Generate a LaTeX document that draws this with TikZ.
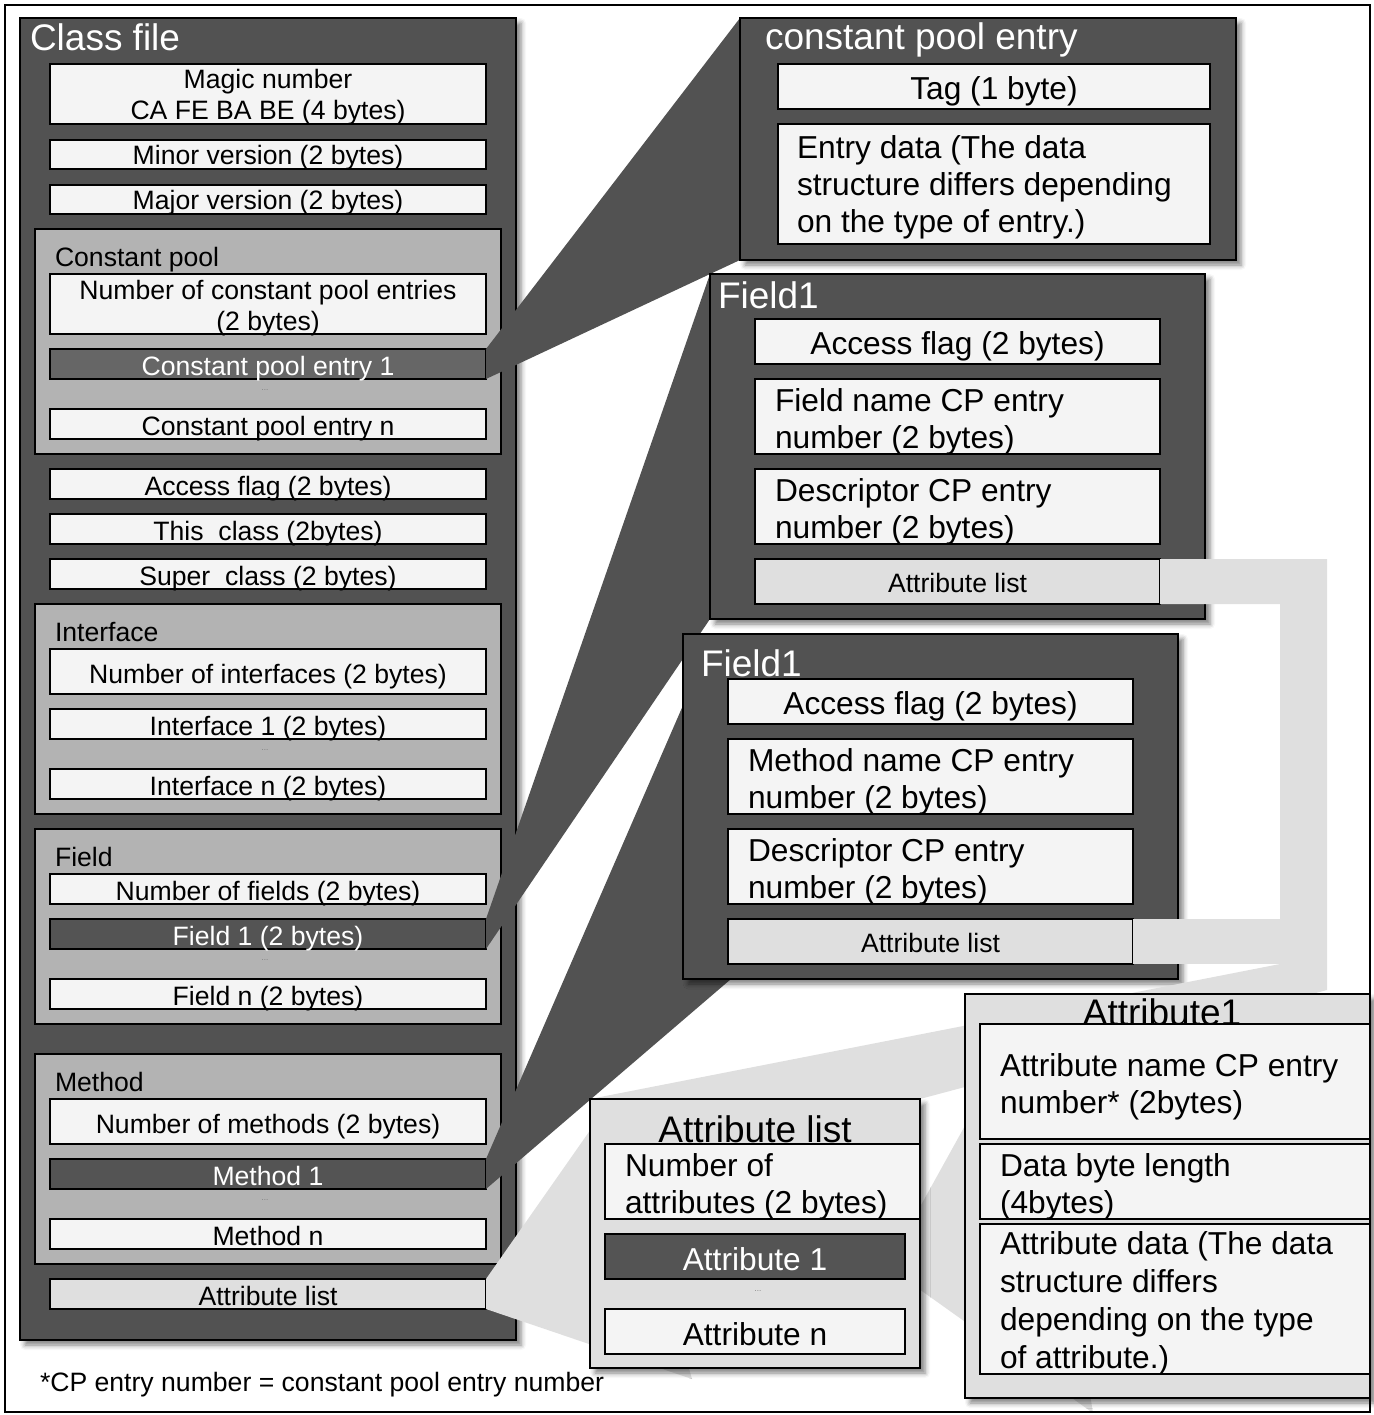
\documentclass[tikz,border=0pt]{standalone}
\usepackage{fontspec}
\setmainfont{Liberation Sans}
\usetikzlibrary{calc,shadows.blur}

\definecolor{panel}{HTML}{525252}
\definecolor{grouping}{HTML}{B3B3B3}
\definecolor{cell}{HTML}{F4F4F4}
\definecolor{cellhi}{HTML}{666666}
\definecolor{celldark}{HTML}{545454}
\definecolor{pale}{HTML}{DFDFDF}
\definecolor{dotgray}{HTML}{7A7A7A}

% stacked lines with a fixed baseline distance; the node base is the last line
\newcommand\cjlines[2]{\vbox{\baselineskip=#1pt\relax\lineskiplimit=-1000pt\relax\halign{\hfil##\hfil\cr#2\crcr}}}
\newcommand\lflines[2]{\vbox{\baselineskip=#1pt\relax\lineskiplimit=-1000pt\relax\halign{##\hfil\cr#2\crcr}}}
% rectangle node: style, name, top-left corner, width, height
\newcommand\rbox[5]{\node[#1,anchor=north west,minimum width=#4pt,minimum height=#5pt] (#2) at (#3) {};}

\tikzset{
  every node/.style={inner sep=0pt, outer sep=0pt},
  fsm/.style={font=\fontsize{26.6pt}{31pt}\selectfont},
  fmd/.style={font=\fontsize{31.7pt}{37pt}\selectfont},
  fbg/.style={font=\fontsize{37pt}{44pt}\selectfont},
  shade/.style={blur shadow={shadow xshift=5pt, shadow yshift=-5pt, shadow blur radius=5pt, shadow opacity=50}},
  panelbox/.style={draw=black, line width=2.5pt, fill=panel, shade},
  palebox/.style={draw=black, line width=2.5pt, fill=pale, shade},
  groupbox/.style={draw=black, line width=2.5pt, fill=grouping},
  cellbox/.style={draw=black, line width=2.4pt, fill=cell},
  hibox/.style={draw=black, line width=2.4pt, fill=cellhi},
  darkbox/.style={draw=black, line width=2.4pt, fill=celldark},
  palecell/.style={draw=black, line width=2.4pt, fill=pale},
  wedge/.style={fill=panel},
  paleband/.style={fill=pale},
  ell/.style={font=\fontsize{8pt}{9pt}\selectfont, text=dotgray},
}

\begin{document}
\begin{tikzpicture}[x=1pt,y=-1pt]
\useasboundingbox (0,0) rectangle (1373,1415);

% ---------------- class file ----------------
\rbox{panelbox}{cls}{20,18}{496}{1322}
\node[fbg, text=white, anchor=base west] (cls-t) at (30,51) {Class file};

\rbox{cellbox}{magic}{50,64}{436}{60}
\rbox{cellbox}{minor}{50,140}{436}{29}
\rbox{cellbox}{major}{50,185}{436}{29}

\rbox{groupbox}{gcp}{35,229}{466}{225}
\node[fsm, anchor=base west] (gcp-t) at (55,266) {Constant pool};
\rbox{cellbox}{cpn}{50,274}{436}{60}
\rbox{hibox}{cpe1}{50,349}{436}{30}
\rbox{cellbox}{cpen}{50,409}{436}{30}

\rbox{cellbox}{acc}{50,469}{436}{30}
\rbox{cellbox}{thiscls}{50,514}{436}{30}
\rbox{cellbox}{supercls}{50,559}{436}{30}

\rbox{groupbox}{gif}{35,604}{466}{210}
\node[fsm, anchor=base west] (gif-t) at (55,641) {Interface};
\rbox{cellbox}{ifn}{50,649}{436}{45}
\rbox{cellbox}{if1}{50,709}{436}{30}
\rbox{cellbox}{ifl}{50,769}{436}{30}

\rbox{groupbox}{gfd}{35,829}{466}{195}
\node[fsm, anchor=base west] (gfd-t) at (55,866) {Field};
\rbox{cellbox}{fdn}{50,874}{436}{30}
\rbox{darkbox}{fd1}{50,919}{436}{30}
\rbox{cellbox}{fdl}{50,979}{436}{30}

\rbox{groupbox}{gmt}{35,1054}{466}{210}
\node[fsm, anchor=base west] (gmt-t) at (55,1091) {Method};
\rbox{cellbox}{mtn}{50,1099}{436}{45}
\rbox{darkbox}{mt1}{50,1159}{436}{30}
\rbox{cellbox}{mtl}{50,1219}{436}{30}

\rbox{palecell}{clsattr}{50,1279}{436}{30}

\node[fsm, anchor=base] (magic-t) at ($(magic.south)+(0,-4)$) {\cjlines{31}{Magic number\cr CA FE BA BE (4 bytes)}};
\node[fsm, anchor=base] (minor-t) at ($(minor.south)+(0,-4)$) {Minor version (2 bytes)};
\node[fsm, anchor=base] (major-t) at ($(major.south)+(0,-4)$) {Major version (2 bytes)};
\node[fsm, anchor=base] (cpn-t) at ($(cpn.south)+(0,-4)$) {\cjlines{31}{Number of constant pool entries\cr (2 bytes)}};
\node[fsm, anchor=base, text=white] (cpe1-t) at ($(cpe1.south)+(0,-4)$) {Constant pool entry 1};
\node[ell] (cp-dots) at (265,390) {...};
\node[fsm, anchor=base] (cpen-t) at ($(cpen.south)+(0,-4)$) {Constant pool entry n};
\node[fsm, anchor=base] (acc-t) at ($(acc.south)+(0,-4)$) {Access flag (2 bytes)};
\node[fsm, anchor=base] (thiscls-t) at ($(thiscls.south)+(0,-4)$) {This\ \ class (2bytes)};
\node[fsm, anchor=base] (supercls-t) at ($(supercls.south)+(0,-4)$) {Super\ \ class (2 bytes)};
\node[fsm, anchor=base] (ifn-t) at ($(ifn.south)+(0,-11)$) {Number of interfaces (2 bytes)};
\node[fsm, anchor=base] (if1-t) at ($(if1.south)+(0,-4)$) {Interface 1 (2 bytes)};
\node[ell] (if-dots) at (265,750) {...};
\node[fsm, anchor=base] (ifl-t) at ($(ifl.south)+(0,-4)$) {Interface n (2 bytes)};
\node[fsm, anchor=base] (fdn-t) at ($(fdn.south)+(0,-4)$) {Number of fields (2 bytes)};
\node[fsm, anchor=base, text=white] (fd1-t) at ($(fd1.south)+(0,-4)$) {Field 1 (2 bytes)};
\node[ell] (fd-dots) at (265,960) {...};
\node[fsm, anchor=base] (fdl-t) at ($(fdl.south)+(0,-4)$) {Field n (2 bytes)};
\node[fsm, anchor=base] (mtn-t) at ($(mtn.south)+(0,-11)$) {Number of methods (2 bytes)};
\node[fsm, anchor=base, text=white] (mt1-t) at ($(mt1.south)+(0,-4)$) {Method 1};
\node[ell] (mt-dots) at (265,1200) {...};
\node[fsm, anchor=base] (mtl-t) at ($(mtl.south)+(0,-4)$) {Method n};
\node[fsm, anchor=base] (clsattr-t) at ($(clsattr.south)+(0,-4)$) {Attribute list};

% ---------------- corners of the detail records ----------------
\coordinate (cp-nw) at (740,18);
\coordinate (fb-nw) at (710,274);
\coordinate (mb-nw) at (683,634);
\coordinate (al-nw) at (590,1099);
\coordinate (al-ne) at (920,1099);
\coordinate (al-sw) at (590,1368);
\coordinate (ala1-ne) at (905,1234);
\coordinate (ala1-se) at (905,1279);
\coordinate (a1-nw) at (965,994);
\coordinate (a1-sw) at (965,1398);

% ---------------- dark callout wedges ----------------
\fill[wedge] (cpe1.north east) -- (cp-nw) -- ($(cp-nw)+(0,242)$) -- (cpe1.south east) -- cycle;
\fill[wedge] (fd1.north east) -- (fb-nw) -- ($(fb-nw)+(0,345)$) -- (fd1.south east) -- cycle;
\fill[wedge] (mt1.north east) -- ($(mb-nw)+(31,0)$) -- ($(mb-nw)+(48,345)$) -- (mt1.south east) -- cycle;

% ---------------- constant pool entry ----------------
\rbox{panelbox}{cpbox}{cp-nw}{496}{242}
\node[fbg, text=white, anchor=base west] (cpbox-t) at (765,50) {constant pool entry};
\rbox{cellbox}{tag}{778,64}{432}{45}
\rbox{cellbox}{edata}{778,124}{432}{120}
\node[fmd, anchor=base] (tag-t) at ($(tag.south)+(0,-9)$) {Tag (1 byte)};
\node[fmd, anchor=base west] (edata-t) at ($(edata.south west)+(19,-11)$) {\lflines{37}{Entry data (The data\cr structure differs depending\cr on the type of entry.)}};

% ---------------- field ----------------
\rbox{panelbox}{fbox}{fb-nw}{495}{345}
\node[fbg, text=white, anchor=base west] (fbox-t) at (718,308) {Field1};
\rbox{cellbox}{facc}{755,319}{405}{45}
\rbox{cellbox}{fname}{755,379}{405}{75}
\rbox{cellbox}{fdesc}{755,469}{405}{75}
\rbox{palecell}{fattr}{755,559}{405}{45}
\node[fmd, anchor=base] (facc-t) at ($(facc.south)+(0,-10)$) {Access flag (2 bytes)};
\node[fmd, anchor=base west] (fname-t) at ($(fname.south west)+(20,-6)$) {\lflines{37}{Field name CP entry\cr number (2 bytes)}};
\node[fmd, anchor=base west] (fdesc-t) at ($(fdesc.south west)+(20,-6)$) {\lflines{37}{Descriptor CP entry\cr number (2 bytes)}};
\node[fsm, anchor=base] (fattr-t) at ($(fattr.south)+(0,-12)$) {Attribute list};

% ---------------- method ----------------
\rbox{panelbox}{mbox}{mb-nw}{495}{345}
\node[fbg, text=white, anchor=base west] (mbox-t) at (701,676) {Field1};
\rbox{cellbox}{macc}{728,679}{405}{45}
\rbox{cellbox}{mname}{728,739}{405}{75}
\rbox{cellbox}{mdesc}{728,829}{405}{75}
\rbox{palecell}{mattr}{728,919}{405}{45}
\node[fmd, anchor=base] (macc-t) at ($(macc.south)+(0,-10)$) {Access flag (2 bytes)};
\node[fmd, anchor=base west] (mname-t) at ($(mname.south west)+(20,-6)$) {\lflines{37}{Method name CP entry\cr number (2 bytes)}};
\node[fmd, anchor=base west] (mdesc-t) at ($(mdesc.south west)+(20,-6)$) {\lflines{37}{Descriptor CP entry\cr number (2 bytes)}};
\node[fsm, anchor=base] (mattr-t) at ($(mattr.south)+(0,-12)$) {Attribute list};

% ---------------- pale connectors ----------------
\coordinate (busR) at (1327,990);
\coordinate (busL) at (1280,964);
\fill[paleband] (fattr.north east) -- (fattr.north east -| busR) -- (busR) -- (al-ne)
  -- (al-nw) -- (busL) -- (fattr.south east -| busL) -- (fattr.south east) -- cycle;
\fill[paleband] (mattr.north east) -- (mattr.north east -| busL) -- (busL) -- (mattr.south east) -- cycle;
\fill[paleband] (clsattr.north east) -- ($(al-nw)+(22,0)$) -- ($(al-sw)+(102,11)$) -- (clsattr.south east) -- cycle;
\fill[paleband] (ala1-ne) -- ($(a1-nw)+(64,16)$) -- ($(a1-sw)+(128,15)$) -- (ala1-se) -- cycle;

% ---------------- attribute list ----------------
\rbox{palebox}{albox}{al-nw}{330}{269}
\node[fbg, anchor=base] (albox-t) at (755,1142) {Attribute list};
\rbox{cellbox}{alnum}{605,1144}{315}{75}
\rbox{darkbox}{ala1}{605,1234}{300}{45}
\rbox{cellbox}{alan}{605,1309}{300}{45}
\node[fmd, anchor=base west] (alnum-t) at ($(alnum.south west)+(20,-6)$) {\lflines{37}{Number of\cr attributes (2 bytes)}};
\node[fmd, anchor=base, text=white] (ala1-t) at ($(ala1.south)+(0,-9)$) {Attribute 1};
\node[ell] (al-dots) at (758,1291) {...};
\node[fmd, anchor=base] (alan-t) at ($(alan.south)+(0,-9)$) {Attribute n};

% ---------------- attribute ----------------
\rbox{palebox}{a1box}{a1-nw}{405}{404}
\node[fbg, anchor=base] (a1box-t) at (1162,1025) {Attribute1};
\rbox{cellbox}{a1name}{980,1024}{390}{115}
\rbox{cellbox}{a1len}{980,1144}{390}{75}
\rbox{cellbox}{a1data}{980,1224}{390}{150}
\node[fmd, anchor=base west] (a1name-t) at (1000,1113) {\lflines{37}{Attribute name CP entry\cr number* (2bytes)}};
\node[fmd, anchor=base west] (a1len-t) at ($(a1len.south west)+(20,-6)$) {\lflines{37}{Data byte length\cr (4bytes)}};
\node[fmd, anchor=base west] (a1data-t) at ($(a1data.south west)+(20,-6)$) {\lflines{38}{Attribute data (The data\cr structure differs\cr depending on the type\cr of attribute.)}};

% ---------------- footnote and frame ----------------
\node[fsm, anchor=base west] (note) at (40,1391) {*CP entry number = constant pool entry number};
\draw[line width=1.6pt] (5,5) rectangle (1370,1412);
\end{tikzpicture}
\end{document}
